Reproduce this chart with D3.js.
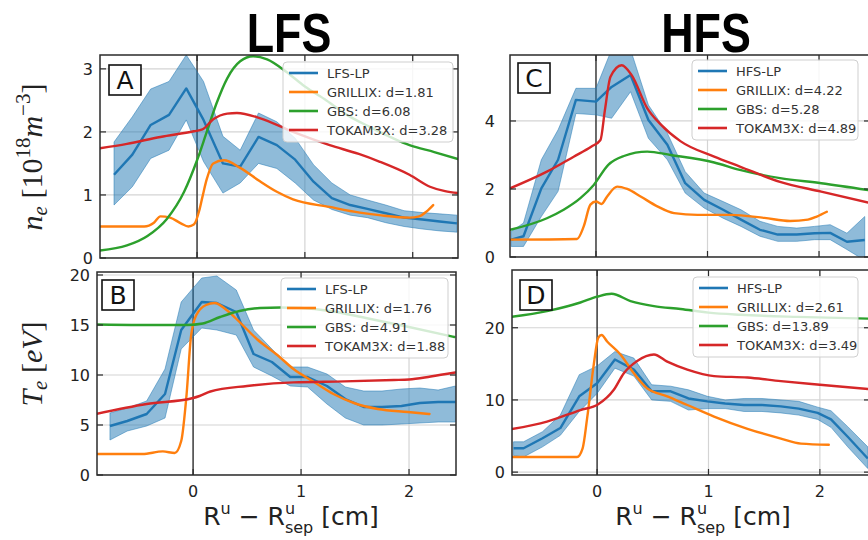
<!DOCTYPE html>
<html>
<head>
<meta charset="utf-8">
<script src="https://cdn.jsdelivr.net/npm/d3@7"></script>
<style>
  body { margin: 0; background: #fff; }
  svg { display: block; }
</style>
</head>
<body>
<div id="chart"></div>
<script>
// ---------- data ----------
var modelNames = ["GRILLIX", "GBS", "TOKAM3X"];
var colors = ["#1f77b4", "#ff7f0e", "#2ca02c", "#d62728"];

// panel A : LFS density
var lpA_x  = [-0.77,-0.60,-0.43,-0.26,-0.10,0.06,0.24,0.40,0.57,0.74,0.91,1.08,1.25,1.42,1.58,1.75,1.92,2.09,2.25,2.41];
var lpA    = [1.32,1.64,2.11,2.27,2.69,2.19,1.50,1.45,1.92,1.79,1.56,1.21,0.95,0.84,0.78,0.71,0.64,0.61,0.58,0.55];
var lpA_hi = [1.84,2.24,2.68,2.80,3.22,2.80,1.93,1.71,2.30,2.16,1.90,1.48,1.19,1.00,0.92,0.84,0.75,0.72,0.70,0.68];
var lpA_lo = [0.84,1.13,1.58,1.71,2.19,1.53,1.03,1.19,1.50,1.42,1.19,0.92,0.77,0.68,0.64,0.56,0.50,0.46,0.43,0.41];
var grillixA_x = [-0.9,-0.49,-0.40,-0.34,-0.25,-0.15,-0.08,-0.03,0.02,0.05,0.09,0.15,0.25,0.40,0.58,0.74,0.89,1.23,1.51,1.69,1.97,2.06,2.13,2.19];
var grillixA   = [0.50,0.50,0.56,0.66,0.64,0.55,0.50,0.53,0.75,0.97,1.25,1.50,1.55,1.43,1.22,1.05,0.93,0.81,0.72,0.68,0.64,0.66,0.74,0.84];
var gbsA_x = [-0.9,-0.65,-0.46,-0.28,-0.12,0,0.09,0.18,0.28,0.40,0.52,0.65,0.83,1.0,1.2,1.39,1.6,1.97,2.2,2.42];
var gbsA   = [0.12,0.20,0.35,0.62,1.05,1.55,2.0,2.45,2.85,3.12,3.20,3.15,2.95,2.72,2.5,2.27,2.08,1.79,1.68,1.57];
var tokA_x = [-0.9,-0.65,-0.34,-0.03,0.05,0.15,0.28,0.37,0.58,0.89,1.23,1.5,1.69,1.97,2.16,2.3,2.42];
var tokA   = [1.74,1.81,1.92,2.01,2.04,2.20,2.29,2.30,2.22,2.00,1.79,1.65,1.53,1.32,1.13,1.06,1.03];
var dA = [1.81, 6.08, 3.28];

// panel B : LFS temperature
var lpB_x  = [-0.77,-0.61,-0.43,-0.26,-0.11,0.08,0.22,0.40,0.56,0.73,0.90,1.06,1.24,1.41,1.58,1.75,1.93,2.10,2.27,2.43];
var lpB    = [4.9,5.4,6.1,8.1,14.5,17.3,17.2,16.3,12.1,11.3,9.8,9.8,8.9,7.6,6.8,6.8,6.9,7.2,7.3,7.3];
var lpB_hi = [6.2,6.7,7.4,10.6,17.3,19.7,19.9,18.5,14.5,12.6,10.8,10.8,10.1,8.8,8.4,8.4,8.6,8.7,8.5,8.9];
var lpB_lo = [3.5,4.4,4.9,5.7,12.6,14.7,14.5,14.0,10.8,9.9,8.9,8.8,7.1,5.7,5.0,5.0,5.1,5.2,5.3,5.3];
var grillixB_x = [-0.9,-0.47,-0.28,-0.17,-0.11,-0.06,-0.02,0.03,0.12,0.20,0.31,0.43,0.59,0.78,0.93,1.12,1.30,1.49,1.71,1.99,2.19];
var grillixB   = [2.1,2.1,2.36,2.2,3.4,8.1,13.8,16.0,17.0,17.2,16.5,15.3,13.6,12.0,10.6,9.3,8.1,7.2,6.6,6.3,6.1];
var gbsB_x = [-0.9,-0.5,-0.06,0.09,0.25,0.43,0.62,0.81,1.0,1.27,1.6,2.0,2.42];
var gbsB   = [15.05,15.0,15.0,15.15,15.8,16.4,16.7,16.75,16.7,16.4,15.7,14.8,13.8];
var tokB_x = [-0.9,-0.43,0,0.06,0.16,0.5,0.93,1.4,1.86,2.0,2.2,2.43];
var tokB   = [6.1,7.1,7.7,7.9,8.35,8.9,9.26,9.36,9.5,9.55,9.85,10.25];
var dB = [1.76, 4.91, 1.88];

// panel C : HFS density
var lpC_x  = [-0.76,-0.65,-0.49,-0.34,-0.18,0,0.14,0.31,0.47,0.64,0.80,0.97,1.14,1.30,1.47,1.63,1.80,1.96,2.10,2.25,2.41];
var lpC    = [0.51,0.61,2.02,2.86,4.62,4.57,5.0,5.35,4.03,3.30,2.17,1.68,1.39,1.10,0.80,0.66,0.66,0.70,0.71,0.45,0.50];
var lpC_hi = [0.75,1.0,2.86,3.74,4.96,4.96,6.1,6.1,4.47,3.64,2.51,1.88,1.63,1.39,1.05,0.90,0.85,0.90,0.95,0.70,1.19];
var lpC_lo = [0.31,0.31,1.19,1.93,4.22,4.18,4.08,4.86,3.49,2.86,1.88,1.44,1.14,0.90,0.61,0.46,0.46,0.51,0.51,0.22,-0.1];
var grillixC_x = [-0.77,-0.17,-0.11,-0.05,0,0.05,0.10,0.19,0.28,0.40,0.55,0.70,0.91,1.21,1.51,1.74,1.90,1.98,2.07];
var grillixC   = [0.51,0.53,0.90,1.54,1.63,1.56,1.78,2.07,2.0,1.78,1.49,1.29,1.24,1.24,1.15,1.06,1.10,1.19,1.33];
var gbsC_x = [-0.77,-0.44,-0.29,-0.14,-0.02,0.11,0.25,0.46,0.67,1.06,1.29,1.65,2.02,2.44];
var gbsC   = [0.80,1.14,1.39,1.73,2.12,2.71,2.97,3.10,3.00,2.78,2.56,2.32,2.17,1.97];
var tokC_x = [-0.77,-0.44,-0.2,-0.04,0.04,0.08,0.13,0.23,0.32,0.46,0.58,0.76,1.06,1.29,1.65,2.02,2.44];
var tokC   = [2.02,2.51,2.95,3.25,3.44,4.32,5.3,5.64,5.35,4.37,3.9,3.4,2.95,2.66,2.21,1.92,1.6];
var dC = [4.22, 5.28, 4.89];

// panel D : HFS temperature
var lpD_x  = [-0.75,-0.66,-0.49,-0.33,-0.16,0,0.16,0.33,0.49,0.66,0.82,0.99,1.15,1.32,1.48,1.65,1.81,1.98,2.10,2.25,2.43];
var lpD    = [3.3,3.3,4.7,6.1,10.5,12.3,15.6,14.2,11.2,11.2,10.2,9.8,9.5,9.3,9.3,9.1,8.8,8.2,7.3,4.9,1.9];
var lpD_hi = [4.2,4.2,5.6,7.9,13.5,14.7,16.7,15.8,12.1,11.9,11.4,10.5,10.0,10.2,10.2,10.0,9.8,9.0,8.5,6.3,3.5];
var lpD_lo = [2.3,2.1,3.5,5.1,8.4,10.9,14.4,13.3,10.0,9.8,8.6,8.8,8.8,8.4,8.4,8.2,7.9,7.3,6.2,3.5,0.5];
var grillixD_x = [-0.77,-0.18,-0.13,-0.09,-0.03,0.01,0.04,0.09,0.21,0.33,0.45,0.63,0.81,1.05,1.35,1.65,1.83,2.08];
var grillixD   = [2.1,2.1,3.3,7.4,14.9,18.6,19.0,18.1,16.3,13.7,11.6,10.5,9.3,7.7,6.0,4.65,3.95,3.8];
var gbsD_x = [-0.77,-0.45,-0.15,0,0.13,0.3,0.51,0.75,1.0,1.29,1.8,2.45];
var gbsD   = [21.5,22.3,23.5,24.3,24.7,23.7,23.0,22.6,22.1,21.8,21.5,21.25];
var tokD_x = [-0.77,-0.45,-0.15,0.01,0.15,0.24,0.36,0.51,0.63,0.81,1.05,1.35,1.65,2.0,2.45];
var tokD   = [5.95,7.0,8.6,9.4,11.4,13.7,15.4,16.3,15.3,14.2,13.3,13.1,12.6,12.1,11.5];
var dD = [2.61, 13.89, 3.49];

var xTicks = [0, 1, 2];

// ---------- drawing ----------
var svg = d3.select("#chart").append("svg")
    .attr("width", 868)
    .attr("height", 540);

var panels = [
  { id: "A", box: [100, 458, 55, 258], xd: [-0.9, 2.42], yd: [0, 3.22], yTicks: [0, 1, 2, 3], xLab: false, tickGap: 7,
    lpName: "LFS-LP", lp: [lpA_x, lpA, lpA_lo, lpA_hi], models: [[grillixA_x, grillixA], [gbsA_x, gbsA], [tokA_x, tokA]], d: dA,
    legend: [283, 62, 170], tag: [109, 65] },
  { id: "B", box: [97, 456, 272, 475], xd: [-0.89, 2.435], yd: [0, 20.3], yTicks: [0, 5, 10, 15, 20], xLab: true, tickGap: 7,
    lpName: "LFS-LP", lp: [lpB_x, lpB, lpB_lo, lpB_hi], models: [[grillixB_x, grillixB], [gbsB_x, gbsB], [tokB_x, tokB]], d: dB,
    legend: [281, 278, 167], tag: [102, 280] },
  { id: "C", box: [510, 870, 55, 257], xd: [-0.771, 2.457], yd: [0, 5.94], yTicks: [0, 2, 4], xLab: false, tickGap: 15,
    lpName: "HFS-LP", lp: [lpC_x, lpC, lpC_lo, lpC_hi], models: [[grillixC_x, grillixC], [gbsC_x, gbsC], [tokC_x, tokC]], d: dC,
    legend: [692, 60, 166], tag: [518, 63] },
  { id: "D", box: [512, 870, 270, 475], xd: [-0.764, 2.45], yd: [-0.4, 28], yTicks: [0, 10, 20], xLab: true, tickGap: 7,
    lpName: "HFS-LP", lp: [lpD_x, lpD, lpD_lo, lpD_hi], models: [[grillixD_x, grillixD], [gbsD_x, gbsD], [tokD_x, tokD]], d: dD,
    legend: [693, 277, 165], tag: [520, 280] }
];

panels.forEach(function (p) {
  var L = p.box[0], R = p.box[1], T = p.box[2], B = p.box[3];
  var x = d3.scaleLinear().domain(p.xd).range([L, R]);
  var y = d3.scaleLinear().domain(p.yd).range([B, T]);

  var clipId = "clip" + p.id;
  svg.append("clipPath").attr("id", clipId)
    .append("rect").attr("x", L).attr("y", T).attr("width", R - L).attr("height", B - T);

  var g = svg.append("g");
  var plot = g.append("g").attr("clip-path", "url(#" + clipId + ")");

  // grid
  plot.selectAll(".gx").data(xTicks.filter(function (t) { return t !== 0; })).enter()
    .append("line")
    .attr("x1", function (d) { return x(d); }).attr("x2", function (d) { return x(d); })
    .attr("y1", T).attr("y2", B)
    .attr("stroke", "#d4d4d4").attr("stroke-width", 1.2);
  plot.selectAll(".gy").data(p.yTicks).enter()
    .append("line")
    .attr("x1", L).attr("x2", R)
    .attr("y1", function (d) { return y(d); }).attr("y2", function (d) { return y(d); })
    .attr("stroke", "#d4d4d4").attr("stroke-width", 1.2);

  // separatrix line
  plot.append("line")
    .attr("x1", x(0)).attr("x2", x(0)).attr("y1", T).attr("y2", B)
    .attr("stroke", "#3a3a3a").attr("stroke-width", 1.5);

  // probe band + line
  var rows = p.lp[0].map(function (v, i) {
    return { x: v, y: p.lp[1][i], lo: p.lp[2][i], hi: p.lp[3][i] };
  });
  plot.append("path").datum(rows)
    .attr("fill", colors[0]).attr("fill-opacity", 0.5)
    .attr("stroke", colors[0]).attr("stroke-opacity", 0.5).attr("stroke-width", 1)
    .attr("d", d3.area()
      .x(function (d) { return x(d.x); })
      .y0(function (d) { return y(d.lo); })
      .y1(function (d) { return y(d.hi); }));
  plot.append("path").datum(rows)
    .attr("fill", "none").attr("stroke", colors[0]).attr("stroke-width", 2.4)
    .attr("stroke-linejoin", "round")
    .attr("d", d3.line()
      .x(function (d) { return x(d.x); })
      .y(function (d) { return y(d.y); }));

  // simulations
  p.models.forEach(function (m, k) {
    var pts = m[0].map(function (v, i) { return [v, m[1][i]]; });
    plot.append("path").datum(pts)
      .attr("fill", "none").attr("stroke", colors[k + 1]).attr("stroke-width", 2.4)
      .attr("stroke-linejoin", "round").attr("stroke-linecap", "round")
      .attr("d", d3.line()
        .curve(d3.curveMonotoneX)
        .x(function (d) { return x(d[0]); })
        .y(function (d) { return y(d[1]); }));
  });

  // frame
  g.append("rect")
    .attr("x", L).attr("y", T).attr("width", R - L).attr("height", B - T)
    .attr("fill", "none").attr("stroke", "#2b2b2b").attr("stroke-width", 1.5);

  // inward ticks on all sides
  xTicks.forEach(function (t) {
    g.append("line").attr("x1", x(t)).attr("x2", x(t)).attr("y1", B).attr("y2", B - 6)
      .attr("stroke", "#2b2b2b").attr("stroke-width", 1.2);
    g.append("line").attr("x1", x(t)).attr("x2", x(t)).attr("y1", T).attr("y2", T + 6)
      .attr("stroke", "#2b2b2b").attr("stroke-width", 1.2);
  });
  p.yTicks.forEach(function (t) {
    g.append("line").attr("x1", L).attr("x2", L + 6).attr("y1", y(t)).attr("y2", y(t))
      .attr("stroke", "#2b2b2b").attr("stroke-width", 1.2);
    g.append("line").attr("x1", R).attr("x2", R - 6).attr("y1", y(t)).attr("y2", y(t))
      .attr("stroke", "#2b2b2b").attr("stroke-width", 1.2);
  });

  // tick labels
  g.selectAll(".yl").data(p.yTicks).enter()
    .append("text")
    .attr("x", L - p.tickGap).attr("y", function (d) { return y(d); })
    .attr("dy", "0.36em")
    .attr("text-anchor", "end")
    .attr("font-family", "DejaVu Sans").attr("font-size", 16).attr("fill", "#222")
    .text(function (d) { return d; });
  if (p.xLab) {
    g.selectAll(".xl").data(xTicks).enter()
      .append("text")
      .attr("x", function (d) { return x(d); }).attr("y", B + 22)
      .attr("text-anchor", "middle")
      .attr("font-family", "DejaVu Sans").attr("font-size", 16).attr("fill", "#222")
      .text(function (d) { return d; });
  }

  // legend
  var lx = p.legend[0], ly = p.legend[1], lw = p.legend[2];
  var labels = [p.lpName].concat(modelNames.map(function (n, i) { return n + ": d=" + p.d[i].toFixed(2); }));
  var leg = g.append("g");
  leg.append("rect")
    .attr("x", lx).attr("y", ly).attr("width", lw).attr("height", 80)
    .attr("rx", 4)
    .attr("fill", "#fff").attr("fill-opacity", 0.8)
    .attr("stroke", "#cfcfcf").attr("stroke-width", 1);
  labels.forEach(function (lab, i) {
    var cy = ly + 11 + i * 19;
    leg.append("line")
      .attr("x1", lx + 6).attr("x2", lx + 35).attr("y1", cy).attr("y2", cy)
      .attr("stroke", colors[i]).attr("stroke-width", 2.6);
    leg.append("text")
      .attr("x", lx + 44).attr("y", cy).attr("dy", "0.36em")
      .attr("font-family", "DejaVu Sans").attr("font-size", 13).attr("fill", "#333")
      .text(lab);
  });

  // panel tag
  g.append("rect")
    .attr("x", p.tag[0]).attr("y", p.tag[1]).attr("width", 32).attr("height", 30)
    .attr("fill", "#fff").attr("stroke", "#111").attr("stroke-width", 1.6);
  g.append("text")
    .attr("x", p.tag[0] + 16).attr("y", p.tag[1] + 24)
    .attr("text-anchor", "middle")
    .attr("font-family", "DejaVu Sans").attr("font-size", 25).attr("fill", "#111")
    .text(p.id);
});

// titles
[["LFS", 289], ["HFS", 706]].forEach(function (t) {
  svg.append("text")
    .attr("transform", "translate(" + t[1] + ",52) scale(0.8,1)")
    .attr("text-anchor", "middle")
    .attr("font-family", "Liberation Sans").attr("font-weight", "bold").attr("font-size", 56)
    .attr("fill", "#000")
    .text(t[0]);
});

// x-axis labels (superscript u stacked over subscript sep)
[291, 703].forEach(function (cx) {
  var t = svg.append("text")
    .attr("x", cx).attr("y", 525)
    .attr("text-anchor", "middle")
    .attr("font-family", "DejaVu Sans").attr("font-size", 25).attr("fill", "#222");
  t.append("tspan").text("R");
  t.append("tspan").attr("font-size", 16).attr("dy", -11).text("u");
  t.append("tspan").attr("dy", 11).text(" \u2212 R");
  t.append("tspan").attr("font-size", 16).attr("dy", -11).text("u");
  t.append("tspan").attr("font-size", 16).attr("dx", -10.2).attr("dy", 19).text("sep");
  t.append("tspan").attr("dy", -8).text(" [cm]");
});

// y-axis labels
var ny = svg.append("text")
  .attr("transform", "translate(42,157) rotate(-90)")
  .attr("text-anchor", "middle")
  .attr("font-family", "Liberation Serif").attr("font-size", 30).attr("fill", "#222");
ny.append("tspan").attr("font-style", "italic").text("n");
ny.append("tspan").attr("font-style", "italic").attr("font-size", 21).attr("dy", 5).text("e");
ny.append("tspan").attr("dy", -5).text(" [10");
ny.append("tspan").attr("font-size", 21).attr("dy", -12).text("18");
ny.append("tspan").attr("font-style", "italic").attr("dy", 12).text("m");
ny.append("tspan").attr("font-size", 21).attr("dy", -12).text("\u22123");
ny.append("tspan").attr("dy", 12).text("]");

var ty = svg.append("text")
  .attr("transform", "translate(42,364) rotate(-90)")
  .attr("text-anchor", "middle")
  .attr("font-family", "Liberation Serif").attr("font-size", 30).attr("fill", "#222");
ty.append("tspan").attr("font-style", "italic").text("T");
ty.append("tspan").attr("font-style", "italic").attr("font-size", 21).attr("dy", 5).text("e");
ty.append("tspan").attr("dy", -5).text(" [");
ty.append("tspan").attr("font-style", "italic").text("eV");
ty.append("tspan").text("]");
</script>
</body>
</html>
